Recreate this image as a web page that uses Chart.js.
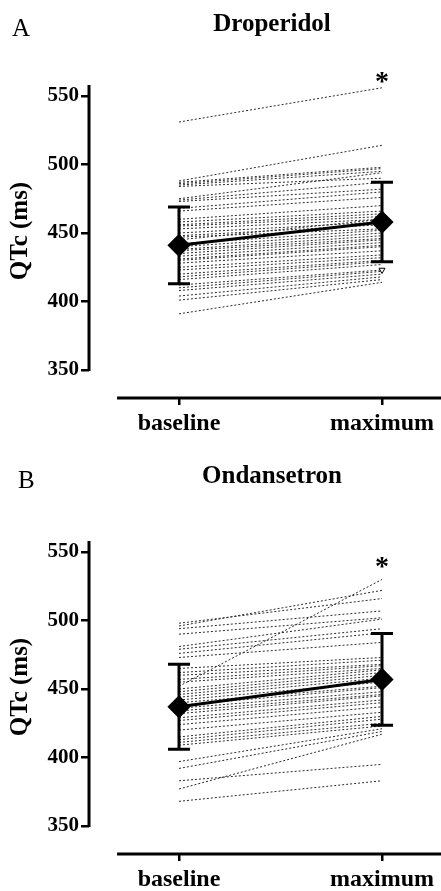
<!DOCTYPE html>
<html>
<head>
<meta charset="utf-8">
<script src="https://cdn.jsdelivr.net/npm/chart.js@4.4.1/dist/chart.umd.min.js"></script>
<style>
  body { margin: 0; background: #fff; width: 441px; height: 891px; overflow: hidden; position: relative; }
  canvas { position: absolute; left: 0; }
  #chartA { top: 0; }
  #chartB { top: 456px; }
</style>
</head>
<body>
<canvas id="chartA" width="441" height="435"></canvas>
<canvas id="chartB" width="441" height="435"></canvas>
<script>
const categories = ['baseline', 'maximum']
const yTicks = [350, 400, 450, 500, 550]

// Droperidol - one value pair per patient
const droBaseline = [531, 488, 487, 486, 485, 484, 475, 474, 473, 468, 466, 460, 458, 456, 455, 453, 450, 448, 447, 445,
  442, 440, 438, 437, 435, 433, 431, 430, 428, 425, 423, 420, 418, 416, 412, 410, 408, 404, 401, 391]
const droMaximum = [556, 514, 498, 497, 495, 490, 494, 487, 482, 480, 476, 470, 466, 464, 462, 460, 458, 456, 453, 460,
  452, 450, 448, 446, 445, 443, 441, 440, 437, 434, 432, 430, 429, 427, 423, 422, 420, 418, 416, 414]
const droMean = [441, 458]
const droSD = [28, 29]
const droOpenPoint = [423]

// Ondansetron
const ondBaseline = [498, 496, 494, 490, 481, 479, 476, 473, 465, 462, 460, 457, 455, 452, 450, 448, 446, 444, 442, 440,
  438, 436, 434, 432, 429, 427, 424, 420, 415, 413, 411, 409, 397, 392, 383, 377, 368]
const ondMaximum = [516, 522, 507, 502, 501, 494, 491, 484, 473, 471, 468, 467, 465, 530, 464, 462, 460, 458, 455, 452,
  451, 448, 446, 445, 442, 440, 437, 433, 430, 428, 425, 423, 421, 419, 395, 417, 383]
const ondMean = [437, 457]
const ondSD = [31, 33.5]

const serif = "'Liberation Serif', 'Times New Roman', serif"

// axis lines, error bars and the texts around the plot
const panelDecor = {
  id: 'panelDecor',
  afterDatasetsDraw(chart, args, opts) {
    const ctx = chart.ctx
    const xs = chart.scales.x, ys = chart.scales.y
    ctx.save()
    ctx.strokeStyle = '#000'
    ctx.lineWidth = 3
    opts.mean.forEach((m, i) => {
      const px = xs.getPixelForValue(i)
      const top = ys.getPixelForValue(m + opts.sd[i])
      const bot = ys.getPixelForValue(m - opts.sd[i])
      ctx.beginPath()
      ctx.moveTo(px, top); ctx.lineTo(px, bot)
      ctx.moveTo(px - 11, top); ctx.lineTo(px + 11, top)
      ctx.moveTo(px - 11, bot); ctx.lineTo(px + 11, bot)
      ctx.stroke()
    })
    ctx.restore()
  },
  afterDraw(chart, args, opts) {
    const ctx = chart.ctx
    const xs = chart.scales.x, ys = chart.scales.y
    const area = chart.chartArea
    ctx.save()
    ctx.strokeStyle = '#000'
    ctx.lineWidth = 3
    ctx.beginPath()
    ctx.moveTo(area.left, ys.getPixelForValue(350) + 1)
    ctx.lineTo(area.left, area.top)
    ctx.stroke()
    ctx.beginPath()
    ctx.moveTo(xs.getPixelForValue(-0.305), area.bottom)
    ctx.lineTo(chart.width, area.bottom)
    ctx.stroke()

    ctx.fillStyle = '#000'
    ctx.textBaseline = 'alphabetic'
    ctx.textAlign = 'center'
    ctx.font = 'bold 25px ' + serif
    ctx.fillText(opts.title, 272, opts.titleY)
    ctx.textAlign = 'left'
    ctx.font = '25px ' + serif
    ctx.fillText(opts.letter, opts.letterX, opts.letterY)

    ctx.font = 'bold 28px ' + serif
    ctx.textAlign = 'center'
    ctx.fillText('*', xs.getPixelForValue(1), ys.getPixelForValue(opts.star) + 16)

    ctx.translate(21, 231)
    ctx.rotate(-Math.PI / 2)
    ctx.font = 'bold 25px ' + serif
    ctx.textBaseline = 'middle'
    ctx.fillText('QTc (ms)', 0, 0)
    ctx.restore()
  }
}

function makePanel(id, baseline, maximum, mean, sd, extra) {
  const datasets = [{
    data: mean.map((v, i) => ({x: i, y: v})),
    borderColor: '#000',
    borderWidth: 3,
    pointStyle: 'rectRot',
    pointRadius: 9.5,
    pointBackgroundColor: '#000',
    pointBorderColor: '#000'
  }]
  if (extra.open) {
    datasets.push({
      data: extra.open.map(v => ({x: 1, y: v})),
      showLine: false,
      pointStyle: 'triangle',
      rotation: 180,
      pointRadius: 3.5,
      pointBackgroundColor: '#fff',
      pointBorderColor: '#000',
      pointBorderWidth: 1
    })
  }
  baseline.forEach((b, i) => {
    datasets.push({
      data: [{x: 0, y: b}, {x: 1, y: maximum[i]}],
      borderColor: '#2a2a2a',
      borderWidth: 1,
      borderDash: [2, 2],
      pointRadius: 0
    })
  })

  var ctx = document.getElementById(id).getContext('2d')
  const chart = new Chart(ctx, {
    type: 'line',
    data: {datasets: datasets},
    plugins: [panelDecor],
    options: {
      responsive: false,
      animation: false,
      layout: {padding: {top: 85, left: 0, right: 0, bottom: 0}},
      plugins: {
        legend: {display: false},
        tooltip: {enabled: false},
        panelDecor: {mean: mean, sd: sd, title: extra.title, titleY: extra.titleY,
          letter: extra.letter, letterX: extra.letterX, letterY: extra.letterY, star: extra.star}
      },
      scales: {
        x: {
          type: 'linear',
          min: -0.443,
          max: 1.291,
          afterBuildTicks: scale => { scale.ticks = [{value: 0}, {value: 1}] },
          afterFit: scale => {
            scale.height = 37
            scale.paddingLeft = 0
            scale.paddingRight = 0
          },
          border: {display: false},
          grid: {drawOnChartArea: false, drawTicks: true, tickLength: 7, lineWidth: 2.5, color: '#000'},
          ticks: {
            color: '#000',
            padding: 4,
            maxRotation: 0,
            font: {family: serif, size: 24, weight: 'bold'},
            callback: v => categories[v]
          }
        },
        y: {
          min: 329.56,
          max: 558.03,
          afterBuildTicks: scale => { scale.ticks = yTicks.map(v => ({value: v})) },
          afterFit: scale => {
            scale.width = 89
            scale.paddingTop = 0
            scale.paddingBottom = 0
          },
          border: {display: false},
          grid: {drawOnChartArea: false, drawTicks: true, tickLength: 8, lineWidth: 2.5, color: '#000'},
          ticks: {
            color: '#000',
            padding: 2,
            font: {family: serif, size: 21, weight: 'bold'}
          }
        }
      }
    }
  })

  // the plot should run to the right edge of the canvas
  const gap = chart.width - chart.chartArea.right
  if (gap > 0.5) {
    chart.config.options.layout.padding.right = -gap
    chart.update()
  }
  // baseline at x=179, maximum at x=382
  const a = chart.chartArea
  chart.config.options.scales.x.min = -(179 - a.left) / 203
  chart.config.options.scales.x.max = (a.right - 179) / 203
  chart.update()
  return chart
}

makePanel('chartA', droBaseline, droMaximum, droMean, droSD,
  {title: 'Droperidol', titleY: 31, letter: 'A', letterX: 12, letterY: 36, star: 566, open: droOpenPoint})
makePanel('chartB', ondBaseline, ondMaximum, ondMean, ondSD,
  {title: 'Ondansetron', titleY: 27, letter: 'B', letterX: 18, letterY: 32, star: 545})
</script>
</body>
</html>
